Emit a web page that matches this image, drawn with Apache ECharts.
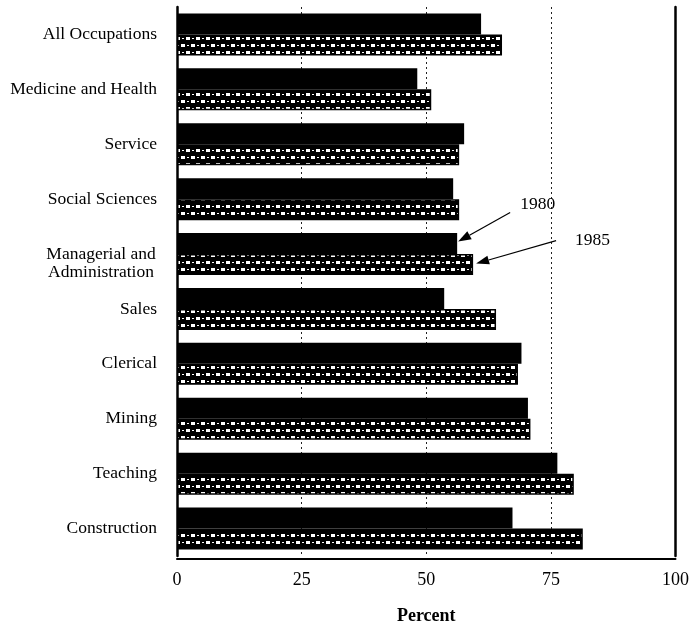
<!DOCTYPE html>
<html><head><meta charset="utf-8">
<script src="https://cdn.jsdelivr.net/npm/echarts@6/dist/echarts.min.js"></script>
<style>html,body{margin:0;padding:0;background:#fff}#c{width:692px;height:630px}</style>
</head><body><div id="c"></div>
<script>
const categories = ['All Occupations','Medicine and Health','Service','Social Sciences','Managerial and Administration','Sales','Clerical','Mining','Teaching','Construction'];
const values1980 = [61, 48.2, 57.6, 55.4, 56.2, 53.6, 69.1, 70.4, 76.3, 67.3];
const values1985 = [65.2, 51, 56.6, 56.6, 59.4, 64, 68.4, 70.9, 79.6, 81.4];
const seriesNames = ['1980', '1985'];
const xTicks = [0, 25, 50, 75, 100];
const annotated = 'Managerial and Administration';

const FONT = '"Liberation Serif", "Times New Roman", serif';

// checker-like pattern for the 1985 bars
const tile = document.createElement('canvas');
tile.width = 10; tile.height = 14;
const g = tile.getContext('2d');
g.fillStyle = '#000'; g.fillRect(0, 0, 10, 14);
g.fillStyle = '#fff';
g.fillRect(1, 2, 4, 3);
g.fillRect(6, 9, 4, 3);
g.fillRect(7, 3, 2, 1);
g.fillRect(2, 10, 2, 1);

const chart = echarts.init(document.getElementById('c'), null, {renderer: 'canvas'});
const BW = 21;
const option = {
  animation: false,
  backgroundColor: '#fff',
  grid: {left: 177, width: 503, top: 7, height: 550},
  xAxis: {
    type: 'value', min: xTicks[0], max: xTicks[xTicks.length - 1], interval: 25,
    offset: 3,
    axisLine: {show: true, onZero: false, lineStyle: {color: '#000', width: 2}},
    axisTick: {show: false},
    axisLabel: {color: '#000', fontFamily: FONT, fontSize: 18, margin: 12},
    splitLine: {show: true, lineStyle: {color: '#222', width: 1, type: [2, 3]}},
    name: 'Percent', nameLocation: 'middle', nameGap: 48,
    nameTextStyle: {color: '#000', fontFamily: FONT, fontSize: 18, fontWeight: 'bold'}
  },
  yAxis: [{
    type: 'category', data: categories, inverse: true,
    axisLine: {show: true, lineStyle: {color: '#000', width: 2.5}},
    axisTick: {show: false},
    axisLabel: {
      color: '#000', fontFamily: FONT, fontSize: 17.5, margin: 20, lineHeight: 18,
      formatter: function (v) {
        if (v === annotated) return '\n{m|Managerial and}\n{m|Administration}';
        return v;
      },
      rich: {m: {fontFamily: FONT, fontSize: 17.5, color: '#000', width: 112, align: 'center', lineHeight: 18}}
    }
  }, {
    type: 'category', data: categories, inverse: true, position: 'right',
    axisLine: {show: true, lineStyle: {color: '#000', width: 2.5}},
    axisTick: {show: false}, axisLabel: {show: false}
  }],
  series: [{
    name: seriesNames[0], type: 'bar', data: values1980, barWidth: BW, barGap: '0%',
    itemStyle: {color: '#000'}
  }, {
    name: seriesNames[1], type: 'bar', data: values1985, barWidth: BW,
    itemStyle: {color: {image: tile, repeat: 'repeat'}, borderColor: '#000', borderWidth: 1.5}
  }]
};
chart.setOption(option);

// annotations (arrows pointing at the ends of the Managerial bars)
const idx = categories.indexOf(annotated);
const yc = chart.convertToPixel({yAxisIndex: 0}, idx);
function arrow(tipX, tipY, fromX, fromY, text, tx, ty) {
  const ang = Math.atan2(tipY - fromY, tipX - fromX);
  const L = 13, W = 4.5;
  const bx = tipX - L * Math.cos(ang), by = tipY - L * Math.sin(ang);
  const px = -Math.sin(ang) * W, py = Math.cos(ang) * W;
  return [
    {type: 'line', shape: {x1: fromX, y1: fromY, x2: bx, y2: by}, style: {stroke: '#000', lineWidth: 1.2}},
    {type: 'polygon', shape: {points: [[tipX, tipY], [bx + px, by + py], [bx - px, by - py]]}, style: {fill: '#000'}},
    {type: 'text', x: tx, y: ty, style: {text: text, font: '17.5px ' + FONT, fill: '#000', verticalAlign: 'middle'}}
  ];
}
const t1x = chart.convertToPixel({xAxisIndex: 0}, values1980[idx]);
const t2x = chart.convertToPixel({xAxisIndex: 0}, values1985[idx]);
const t1y = yc - BW / 2 - 2, t2y = yc + BW / 2 - 1;
chart.setOption({graphic: [].concat(
  arrow(t1x + 1, t1y, t1x + 53, t1y - 29, seriesNames[0], t1x + 63, t1y - 37),
  arrow(t2x + 3, t2y, t2x + 83, t2y - 23, seriesNames[1], t2x + 102, t2y - 23)
)});
</script></body></html>
